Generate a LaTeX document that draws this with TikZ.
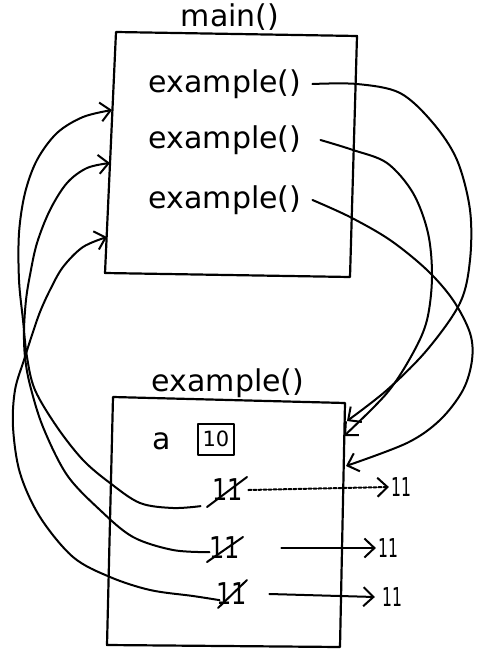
\documentclass[tikz,border=0pt]{standalone}
\usepackage{fontspec}
\setmainfont{DejaVu Sans}
\usetikzlibrary{arrows.meta}
\begin{document}
\begin{tikzpicture}[x=1pt,y=-1pt,
  hand/.style={line width=2pt, line cap=round, line join=round},
  boxline/.style={line width=2.2pt, line join=round},
  conn/.style={hand, -{Straight Barb[length=10pt,width=19pt]}},
  lbl/.style={font=\fontsize{30}{34}\selectfont, inner sep=0pt},
  mid/.style={font=\fontsize{30}{34}\selectfont, inner sep=0pt},
  small/.style={font=\fontsize{26}{30}\selectfont, inner sep=0pt},
  tiny/.style={font=\fontsize{21}{24}\selectfont, inner sep=0pt},
]
\useasboundingbox (0,0) rectangle (478,661);

% main() frame
\coordinate (m1) at (116,32);
\coordinate (m2) at (357,36);
\coordinate (m3) at (350,277);
\coordinate (m4) at (105,273);
\draw[boxline] (m1) -- (m2) -- (m3) -- (m4) -- cycle;

% example() frame
\coordinate (x1) at (113,397);
\coordinate (x2) at (345,403);
\coordinate (x3) at (340,647);
\coordinate (x4) at (107,645);
\draw[boxline] (x1) -- (x2) -- (x3) -- (x4) -- cycle;

% texts
\node[lbl] (tmain) at (230,17) {main()};
\node[lbl] (e1) at (225,84) {example()};
\node[lbl] (e2) at (225,140) {example()};
\node[lbl] (e3) at (225,200) {example()};
\node[lbl] (tex) at (228,383) {example()};
\node[lbl] (va) at (162,441) {a};
\node[tiny, draw, hand, minimum width=36pt, minimum height=31pt] (v10) at (216,439) {10};

% crossed-out values
\node[mid] (s1) at (228,490) {\scalebox{0.8}[1]{11}};
\node[mid] (s2) at (225,548) {\scalebox{0.8}[1]{11}};
\node[mid] (s3) at (232,594) {\scalebox{0.8}[1]{11}};
\draw[hand] ([shift={(-21,17)}]s1.center) -- ([shift={(19,-13)}]s1.center);
\draw[hand] ([shift={(-18,14)}]s2.center) -- ([shift={(18,-11)}]s2.center);
\draw[hand] ([shift={(-14,14)}]s3.center) -- ([shift={(15,-14)}]s3.center);

% new values
\node[small] (o1) at (401,487) {\scalebox{0.6}[1]{11}};
\node[small] (o2) at (388,548) {\scalebox{0.6}[1]{11}};
\node[small] (o3) at (392,597) {\scalebox{0.6}[1]{11}};
\draw[conn, densely dashed] ([xshift=5pt]s1.east) -- ([xshift=-2pt]o1.west);
\draw[conn] ([xshift=41pt]s2.east) -- ([xshift=-2pt]o2.west);
\draw[conn] ([xshift=22pt]s3.east) -- ([xshift=-7pt]o3.west);

% arrow targets
\coordinate (r1) at (347,421);
\coordinate (r2) at (344,436);
\coordinate (r3) at (346,466);
\coordinate (a1) at (112,110);
\coordinate (a2) at (110,163);
\coordinate (a3) at (107,237);

% calls: main -> example()
\draw[conn] plot[smooth, tension=0.55] coordinates {([xshift=11pt]e1.east) (357,84) (400,93) (433,123) (457,160) (470,210) (470,260) (460,303) (427,350) (387,390) (r1)};
\draw[conn] plot[smooth, tension=0.55] coordinates {([xshift=19pt]e2.east) (353,150) (387,163) (413,193) (428,233) (432,277) (427,320) (413,353) (387,393) (r2)};
\draw[conn] plot[smooth, tension=0.55] coordinates {([xshift=11pt]e3.east) (350,217) (390,240) (427,270) (453,300) (470,333) (472,360) (463,390) (440,420) (407,443) (r3)};

% returns: example() -> main
\draw[conn] plot[smooth, tension=0.55] coordinates {([shift={(-12,5)}]s1.south west) (173,508) (140,503) (110,483) (83,460) (57,427) (35,390) (27,357) (23,320) (19,280) (19,233) (25,193) (37,160) (57,133) (83,117) (a1)};
\draw[conn] plot[smooth, tension=0.55] coordinates {([shift={(0,-7)}]s2.south west) (173,550) (133,537) (100,510) (67,475) (43,427) (30,385) (25,357) (24,330) (26,300) (30,275) (37,243) (50,210) (67,183) (87,168) (a2)};
\draw[conn] plot[smooth, tension=0.55] coordinates {([shift={(3,-5)}]s3.south west) (193,596) (150,590) (110,577) (73,557) (40,517) (20,473) (13,427) (15,390) (24,360) (32,335) (40,312) (50,290) (63,267) (83,247) (a3)};
\end{tikzpicture}
\end{document}
